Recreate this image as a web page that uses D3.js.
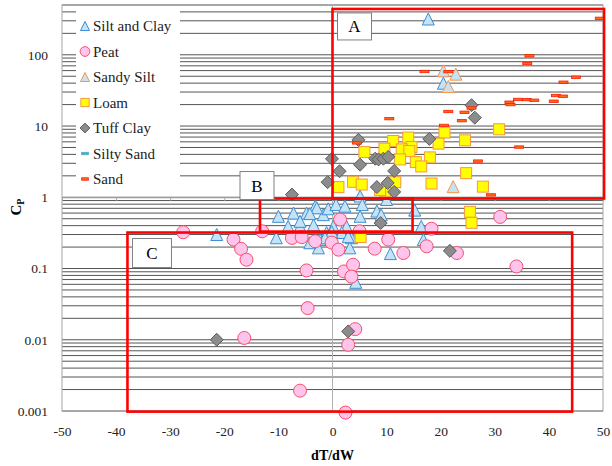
<!DOCTYPE html>
<html>
<head>
<meta charset="utf-8">
<script src="https://cdn.jsdelivr.net/npm/d3@7"></script>
<style>
  body { margin: 0; background: #fff; }
  svg, svg text { font-family: "Liberation Serif", "DejaVu Serif", serif !important; }
</style>
</head>
<body>
<div id="chart"></div>
<script>
// data: [dT/dW, Cp]
var siltClay = [[17.7,318],[20.5,39.9],[-21.4,0.30],[-10.0,0.54],[-10.4,0.27],[-7.2,0.60],[-8.2,0.39],
  [-6.0,0.39],[-4.8,0.60],[-3.2,0.75],[-3.5,0.41],[-1.7,0.57],[-0.8,0.69],[0.65,0.79],[2.3,0.75],
  [0.15,0.39],[2.6,0.39],[1.7,0.32],[-1.1,0.32],[-2.3,0.255],[-2.6,0.195],[3.5,0.27],[3.2,0.195],
  [5.1,1.04],[5.5,0.79],[5.1,0.54],[8.2,0.64],[10.0,0.93],[15.2,0.66],[16.4,0.39],[16.8,0.255],
  [10.7,0.162],[4.3,0.064],[9.0,0.57],[-2.9,0.71],[-4.2,0.59],[-6.0,0.46],[-4.2,0.23],[-0.15,0.33],
  [-1.4,0.27],[2.9,0.28]];
var peat = [[-27.6,0.323],[-18.3,0.255],[-16.9,0.189],[-15.9,0.133],[-13.0,0.333],[-7.5,0.269],
  [-5.7,0.276],[-3.2,0.241],[-0.15,0.231],[1.1,0.184],[1.4,0.487],[5.0,0.333],[7.8,0.19],[10.3,0.255],
  [13.1,0.165],[17.4,0.205],[18.3,0.362],[23.0,0.165],[31.0,0.53],[34.0,0.107],[-4.8,0.094],[2.1,0.091],
  [3.8,0.113],[3.5,0.077],[-4.6,0.0278],[-16.3,0.0106],[4.2,0.0141],[2.9,0.0085],[-6.0,0.00193],[2.4,0.00095]];
var sandySilt = [[20.5,59.5],[22.8,53.5],[21.4,35.9],[22.3,1.41]];
var loam = [[30.8,9.0],[20.7,8.1],[14.0,6.9],[11.2,6.16],[19.6,5.66],[24.5,6.3],[14.6,5.07],[9.6,4.81],
  [12.8,4.7],[14.2,4.45],[5.9,4.31],[18.0,3.63],[12.5,3.4],[15.4,3.12],[16.4,2.71],[24.7,2.18],
  [11.6,1.63],[18.3,1.56],[27.8,1.41],[9.7,1.22],[8.8,1.26],[1.1,1.39],[3.8,1.65],[5.4,1.51],
  [25.4,0.625],[25.7,0.438],[5.2,0.277]];
var tuffClay = [[25.7,19.6],[26.3,13.1],[17.9,6.6],[4.8,6.4],[-0.1,3.46],[7.9,3.48],[8.5,3.4],[9.4,3.48],
  [10.3,3.69],[5.1,2.87],[1.3,2.32],[11.4,2.34],[-0.9,1.63],[8.2,1.39],[10.2,1.59],[11.4,1.19],
  [-7.5,1.09],[8.9,0.435],[21.7,0.177],[-21.4,0.010],[2.9,0.0131]];
var siltySand = [];
var sand = [[49.4,325],[36.4,96.7],[36.0,75.5],[17.0,58.3],[21.4,58],[45.0,48.5],[42.7,41.2],[41.3,26.8],
  [42.6,26.2],[34.3,23.6],[35.9,23.5],[37.3,23.0],[32.7,21.6],[32.9,20.0],[40.9,22.3],[25.7,17.9],
  [21.4,16.0],[24.4,15.6],[10.5,12.7],[23.9,11.9],[20.6,10.2],[4.5,5.8],[34.5,5.07],[26.9,3.22],[29.3,1.08]];

var xTicks = [-50, -40, -30, -20, -10, 0, 10, 20, 30, 40, 50];
var yTicks = [0.001, 0.01, 0.1, 1, 10, 100];

// regions A, B, C in data units: [x0, x1, y0, y1]
var regionNames = ["A", "B", "C"];
var regionBoxes = [[0, 50.2, 0.96, 440], [-13.4, 14.8, 0.33, 0.96], [-37.9, 44.3, 0.00098, 0.32]];

var FONT = "Liberation Serif";
var W = 612, H = 466;
var svg = d3.select("#chart").append("svg").attr("width", W).attr("height", H)
  .style("font-family", FONT);

var x = d3.scaleLinear().domain([-50, 50]).range([62, 603]);
var y = d3.scaleLog().domain([0.001, 500]).range([411, 5]);

// gridlines
svg.append("g").selectAll("line")
  .data(y.ticks())
  .enter().append("line")
  .attr("x1", 62).attr("x2", 603)
  .attr("y1", function (d) { return y(d); })
  .attr("y2", function (d) { return y(d); })
  .attr("stroke", "#555").attr("stroke-width", 1);

// plot border and zero line
svg.append("rect").attr("x", 62).attr("y", 5).attr("width", 541).attr("height", 406)
  .attr("fill", "none").attr("stroke", "#a6a6a6");
svg.append("line").attr("x1", x(0)).attr("x2", x(0)).attr("y1", 5).attr("y2", 411)
  .attr("stroke", "#b0b0b0");

// horizontal axis line crossing at Cp = 1, labels at the bottom
var xAxisLine = svg.append("g").attr("transform", "translate(0," + y(1) + ")")
  .call(d3.axisBottom(x).tickValues(xTicks).tickSize(4).tickFormat(""));
xAxisLine.select(".domain").attr("stroke", "#a6a6a6");
xAxisLine.selectAll(".tick line").attr("stroke", "#a6a6a6");

var xAxis = svg.append("g").attr("transform", "translate(0,411)")
  .call(d3.axisBottom(x).tickValues(xTicks).tickSize(0).tickPadding(15)
    .tickFormat(function (d) { return String(d); }));
xAxis.attr("font-family", FONT);
xAxis.select(".domain").remove();
xAxis.selectAll("text").attr("font-size", "13.5px").attr("fill", "#222")
  .style("font-family", FONT);

var yAxis = svg.append("g").attr("transform", "translate(62,0)")
  .call(d3.axisLeft(y).tickValues(yTicks).tickSize(0).tickPadding(14)
    .tickFormat(function (d) { return String(d); }));
yAxis.attr("font-family", FONT);
yAxis.select(".domain").remove();
yAxis.selectAll("text").attr("font-size", "13.5px").attr("fill", "#222")
  .style("font-family", FONT);

// axis titles
svg.append("text").attr("x", x(0)).attr("y", 460).attr("text-anchor", "middle")
  .style("font-family", FONT)
  .attr("font-size", "14px").attr("font-weight", "bold").text("dT/dW");
var cp = svg.append("text").attr("transform", "translate(21,207) rotate(-90)")
  .style("font-family", FONT)
  .attr("text-anchor", "middle").attr("font-size", "15px").attr("font-weight", "bold");
cp.append("tspan").text("C");
cp.append("tspan").attr("font-size", "10px").attr("dy", "3").text("P");

// marker shapes
function triPath(s) { return "M0," + (-s) + "L" + s + "," + s + "L" + (-s) + "," + s + "Z"; }
function diaPath(s) { return "M0," + (-s) + "L" + s + ",0L0," + s + "L" + (-s) + ",0Z"; }

var series = [
  { name: "Silt and Clay", data: siltClay, shape: "tri", fill: "#c6e3f6", stroke: "#3b8ed5" },
  { name: "Peat", data: peat, shape: "circle", fill: "#ffc4ec", stroke: "#f64f6c" },
  { name: "Sandy Silt", data: sandySilt, shape: "tri", fill: "#c6e3f6", stroke: "#f79646" },
  { name: "Loam", data: loam, shape: "square", fill: "#ffff00", stroke: "#f79646" },
  { name: "Tuff Clay", data: tuffClay, shape: "diamond", fill: "#8c8c8c", stroke: "#5a5a5a" },
  { name: "Silty Sand", data: siltySand, shape: "dash", fill: "#4bacc6", stroke: "#4bacc6" },
  { name: "Sand", data: sand, shape: "dash", fill: "#ff6a1a", stroke: "#ff1a00" }
];

function drawMarker(g, s, k) {
  if (s.shape === "tri") {
    g.append("path").attr("d", triPath(6 * k));
  } else if (s.shape === "circle") {
    g.append("circle").attr("r", 6.5 * k);
  } else if (s.shape === "square") {
    g.append("rect").attr("x", -5.5 * k).attr("y", -5.5 * k).attr("width", 11 * k).attr("height", 11 * k);
  } else if (s.shape === "diamond") {
    g.append("path").attr("d", diaPath(6.5 * k));
  } else {
    g.append("rect").attr("x", -4.5 * k).attr("y", -1.2).attr("width", 9 * k).attr("height", 2.4);
  }
  g.selectAll("*").attr("fill", s.fill).attr("stroke", s.stroke)
    .attr("stroke-width", s.shape === "dash" ? 0.8 : 1);
}

series.forEach(function (s) {
  var pts = svg.append("g").selectAll("g")
    .data(s.data).enter().append("g")
    .attr("transform", function (d) { return "translate(" + x(d[0]) + "," + y(d[1]) + ")"; });
  pts.each(function () { drawMarker(d3.select(this), s, 1); });
});

// red region boxes
regionBoxes.forEach(function (b) {
  svg.append("rect")
    .attr("x", x(b[0])).attr("y", y(b[3]))
    .attr("width", x(b[1]) - x(b[0])).attr("height", y(b[2]) - y(b[3]))
    .attr("fill", "none").attr("stroke", "#ff0000").attr("stroke-width", 2.6);
});
var labelPos = [[5, 4, 34, 27], [-20, -27, 34, 28], [5, 6, 39, 29]];
regionBoxes.forEach(function (b, i) {
  var lx = x(b[0]) + labelPos[i][0], ly = y(b[3]) + labelPos[i][1];
  svg.append("rect").attr("x", lx).attr("y", ly)
    .attr("width", labelPos[i][2]).attr("height", labelPos[i][3])
    .attr("fill", "#fff").attr("stroke", "#808080").attr("stroke-width", 1);
  svg.append("text").attr("x", lx + labelPos[i][2] / 2).attr("y", ly + labelPos[i][3] / 2 + 6)
    .style("font-family", FONT)
    .attr("text-anchor", "middle").attr("font-size", "17px").text(regionNames[i]);
});

// legend
var legend = svg.append("g");
legend.append("rect").attr("x", 76).attr("y", 9).attr("width", 104).attr("height", 184).attr("fill", "#fff");
series.forEach(function (s, i) {
  var cy = 26 + i * 25.5;
  var g = legend.append("g").attr("transform", "translate(85," + cy + ")");
  drawMarker(g, s, 0.75);
  legend.append("text").attr("x", 93).attr("y", cy + 5).attr("font-size", "15px")
    .style("font-family", FONT)
    .attr("fill", "#222").text(s.name);
});
</script>
</body>
</html>
